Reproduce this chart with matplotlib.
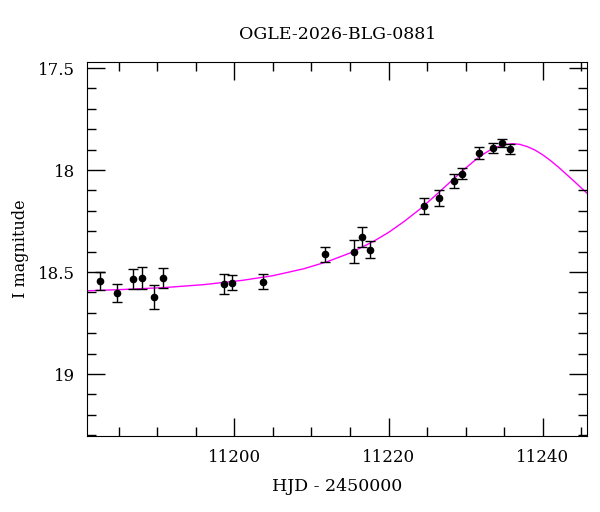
import matplotlib
matplotlib.use("Agg")
import matplotlib.pyplot as plt
from matplotlib.ticker import MultipleLocator, FormatStrFormatter

plt.rcParams['font.family'] = ['DejaVu Serif']

# OGLE photometry (HJD - 2450000, I mag, error)
hjd = [11182.6, 11184.75, 11186.8, 11188.0, 11189.6, 11190.7, 11198.66,
       11199.7, 11203.7, 11211.7, 11215.5, 11216.6, 11217.6, 11224.6,
       11226.6, 11228.5, 11229.6, 11231.8, 11233.6, 11234.7, 11235.8]
imag = [18.544, 18.601, 18.534, 18.531, 18.623, 18.529, 18.560,
        18.552, 18.547, 18.412, 18.400, 18.327, 18.391, 18.178,
        18.137, 18.054, 18.018, 17.918, 17.894, 17.868, 17.896]
ierr = [0.044, 0.044, 0.047, 0.054, 0.060, 0.047, 0.048,
        0.036, 0.038, 0.037, 0.055, 0.048, 0.042, 0.039,
        0.038, 0.033, 0.026, 0.030, 0.025, 0.018, 0.025]

# model curve, values
model_t = [11181, 11186, 11191, 11196, 11201, 11205, 11209, 11212, 11215,
           11218, 11220, 11222, 11224, 11226, 11228, 11230, 11231, 11232,
           11233, 11234, 11235, 11236.1, 11237, 11238, 11239, 11240, 11241,
           11242, 11243, 11244, 11245, 11246]
model_m = [18.592, 18.585, 18.576, 18.562, 18.541, 18.518, 18.484, 18.450,
           18.407, 18.351, 18.306, 18.253, 18.194, 18.128, 18.059, 17.991,
           17.959, 17.930, 17.906, 17.888, 17.876, 17.871, 17.874, 17.885,
           17.902, 17.925, 17.953, 17.984, 18.018, 18.052, 18.087, 18.122]

fig = plt.figure(figsize=(6, 5.12), dpi=100)
ax = fig.add_axes([0.1455, 0.1484, 0.8333, 0.7299])

ax.plot(model_t, model_m, color='#ff00ff', lw=1.0, zorder=1)
ax.errorbar(hjd, imag, yerr=ierr, fmt='o', color='black', ms=4.5,
            elinewidth=1.0, capsize=3.5, capthick=1.0, zorder=2)

ax.set_xlim(11180.9, 11245.8)
ax.set_ylim(19.304, 17.472)

ax.xaxis.set_major_locator(MultipleLocator(20))
ax.xaxis.set_minor_locator(MultipleLocator(5))
ax.yaxis.set_major_locator(MultipleLocator(0.5))
ax.yaxis.set_minor_locator(MultipleLocator(0.1))
ax.yaxis.set_major_formatter(FormatStrFormatter('%g'))

ax.tick_params(which='both', direction='in', top=True, right=True,
               labelsize=12, width=1.0)
ax.tick_params(which='major', length=13, pad=9)
ax.tick_params(which='minor', length=6.5)

ax.set_xlabel('HJD - 2450000', fontsize=12.5, labelpad=9)
ax.set_ylabel('I magnitude', fontsize=11.5, labelpad=6)
ax.set_title('OGLE-2026-BLG-0881', fontsize=12.5, pad=17)

fig.savefig('out.png', dpi=100)
